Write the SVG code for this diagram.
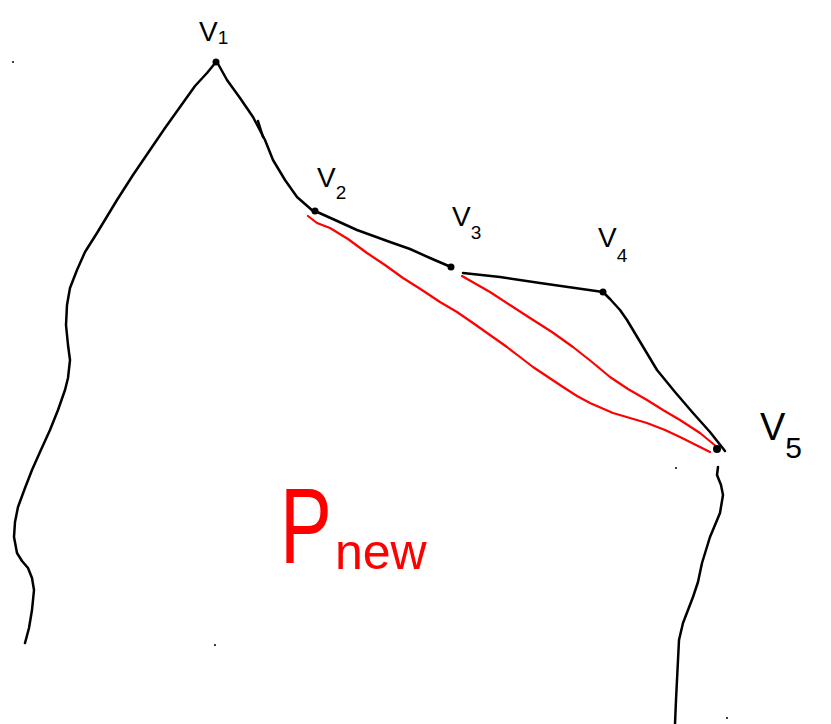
<svg xmlns="http://www.w3.org/2000/svg" width="831" height="724" viewBox="0 0 831 724">
<style>
.k{fill:none;stroke:#000;stroke-width:2.5;stroke-linecap:round;stroke-linejoin:round}
.r{fill:none;stroke:#f00;stroke-width:2.2;stroke-linecap:round;stroke-linejoin:round}
.dot{fill:#000}
.lbl{font-family:"Liberation Sans",Arial,sans-serif;font-size:28px;fill:#000}
.sub{font-size:19px}
.pn{font-family:"Liberation Sans",Arial,sans-serif;fill:#f00}
</style>
<rect width="831" height="724" fill="#fff"/>
<g id="connectors">
<path class="k" d="M216,62 L207,73 L195,86 L180,107 L165,128 L150,150 L133,175 L117,200 L97,233 L85,252 L77,270 L70,288 L67,305 L66,325 L68,345 L70,360 L68,378 L65,390 L58,410 L50,430 L40,452 L32,470 L25,488 L18,507 L15,522 L14,537 L17,553 L22,561 L28,568 L32,578 L34,590 L32,610 L29,628 L25,643"/>
<path class="k" d="M217,62 L227,80 L240,98 L253,117 L265,140 L273,160 L285,180 L297,197 L313,211"/>
<path class="k" d="M258,121 L263,137"/>
<path class="k" d="M315,211 L335,220 L357,230 L390,242 L410,249 L430,258 L451,267"/>
<path class="k" d="M463,273 L500,277 L540,283 L575,288 L603,292"/>
<path class="k" d="M604,293 L610,299 L620,310 L627,320 L642,345 L657,370 L675,392 L693,413 L710,432 L725,451"/>
<path class="k" d="M718,467 L717,475 L721,485 L723,495 L720,513 L710,537 L702,563 L698,582 L693,597 L688,610 L683,623 L679,640 L678,660 L677,680 L676,700 L675,724"/>
<path class="r" d="M308,216 L317,223 L330,228 L348,239 L367,253 L385,265 L403,278 L422,290 L440,302 L457,312 L473,323 L490,335 L507,347 L520,357 L533,367 L548,377 L563,387 L577,396 L590,403 L613,413 L630,418 L647,423 L665,430 L680,437 L696,445 L710,452"/>
<path class="r" d="M462,276 L476,284 L490,292 L510,305 L530,318 L552,332 L573,347 L592,362 L610,377 L628,389 L647,400 L663,410 L680,420 L700,433 L717,447"/>
</g>
<g id="v1"><circle class="dot" cx="216" cy="62" r="3.5"/><text class="lbl" x="199" y="41">V<tspan class="sub" dy="3">1</tspan></text></g>
<g id="v2"><circle class="dot" cx="315" cy="211" r="3.5"/><text class="lbl" x="317" y="187">V<tspan class="sub" dy="12">2</tspan></text></g>
<g id="v3"><circle class="dot" cx="451" cy="267" r="3.5"/><text class="lbl" x="452" y="226">V<tspan class="sub" dy="13">3</tspan></text></g>
<g id="v4"><circle class="dot" cx="603" cy="292" r="3.5"/><text class="lbl" x="598" y="247">V<tspan class="sub" dy="15">4</tspan></text></g>
<g id="v5"><circle class="dot" cx="717" cy="449" r="4"/><text class="lbl" x="760" y="440" style="font-size:38px">V<tspan style="font-size:30px" dy="18">5</tspan></text></g>
<g id="pnew">
<text class="pn" transform="translate(280,563) scale(0.72,1)" style="font-size:108px">P</text>
<text class="pn" x="335" y="569" style="font-size:50px">new</text>
</g>
<g id="specks" fill="#000">
<circle cx="13" cy="62" r="1"/><circle cx="215" cy="645" r="1"/><circle cx="676" cy="468" r="1"/><circle cx="727" cy="718" r="1"/>
</g>
</svg>
